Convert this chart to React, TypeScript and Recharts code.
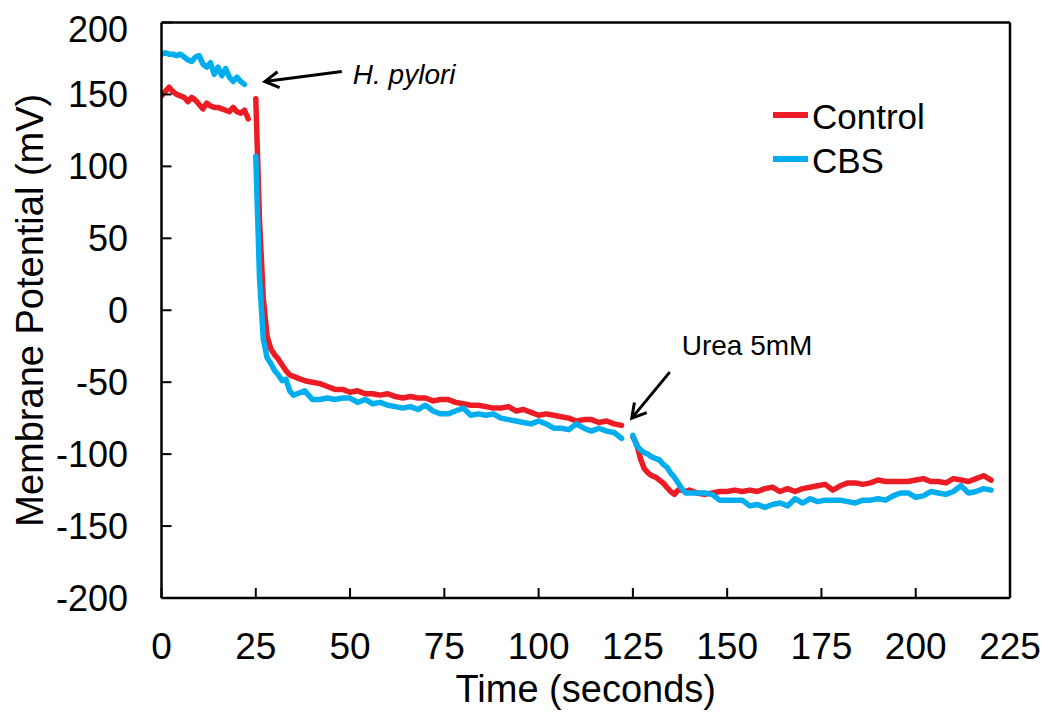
import React from 'react';
import { LineChart, Line, XAxis, YAxis, ReferenceLine, ReferenceDot } from 'recharts';

// ---- Data ----
// Segment 1: before H. pylori addition
const seg1Time = [0, 1, 2, 3, 4, 5, 6, 7, 8, 9, 10, 11, 12, 13, 14, 15, 16, 17, 18, 19, 20, 21, 22, 23];
const control1 = [149, 152, 155, 152, 150, 149, 148, 145, 148, 146, 143, 140, 144, 142, 141, 141, 140, 139, 138, 141, 138, 137, 139, 133];
const cbs1 = [178, 179, 178, 178, 177, 178, 176, 174, 173, 176, 177, 171, 169, 172, 164, 169, 163, 168, 162, 159, 162, 159, 157, null];

// Segment 2: after H. pylori, before urea
const seg2Time = [25, 26, 27, 28, 29, 30, 31, 32, 33, 34, 35, 36, 38, 40, 42, 44, 46, 48, 50, 52, 54, 56, 58, 60, 62, 64, 66, 68, 70, 72, 74, 76, 78, 80, 82, 84, 86, 88, 90, 92, 94, 96, 98, 100, 102, 104, 106, 108, 110, 112, 114, 116, 118, 120, 122];
const control2 = [147, 62, 8, -18, -27, -31, -34, -38, -42, -45, -46, -47, -49, -50, -51, -53, -55, -55, -57, -56, -58, -58, -59, -58, -60, -61, -60, -61, -61, -63, -62, -62, -64, -65, -66, -66, -67, -68, -68, -67, -70, -69, -71, -73, -72, -73, -74, -75, -77, -76, -76, -78, -77, -79, -80];
const cbs2 = [107, 22, -20, -33, -37, -42, -45, -49, -48, -56, -59, -58, -56, -62, -62, -61, -62, -61, -61, -64, -62, -65, -64, -66, -67, -68, -67, -69, -66, -70, -72, -72, -70, -68, -73, -72, -73, -72, -75, -76, -77, -78, -79, -77, -79, -82, -82, -83, -79, -82, -84, -82, -84, -85, -89];

// Segment 3: after urea 5mM
const seg3Time = [125, 126, 127, 128, 129, 130, 131, 132, 133, 134, 135, 136, 137, 138, 139, 140, 142, 144, 146, 148, 150, 152, 154, 156, 158, 160, 162, 164, 166, 168, 170, 172, 174, 176, 178, 180, 182, 184, 186, 188, 190, 192, 194, 196, 198, 200, 202, 204, 206, 208, 210, 212, 214, 216, 218, 220];
const control3 = [-88, -93, -103, -110, -113, -115, -116, -118, -120, -123, -126, -128, -125, -125, -126, -125, -127, -128, -127, -126, -126, -125, -126, -125, -126, -124, -123, -126, -124, -126, -124, -123, -122, -121, -125, -122, -120, -120, -121, -120, -118, -119, -119, -119, -119, -118, -117, -119, -119, -120, -117, -118, -119, -117, -115, -118];
const cbs3 = [-87, -94, -97, -99, -100, -102, -103, -104, -107, -109, -113, -116, -120, -124, -127, -127, -127, -127, -128, -132, -132, -132, -132, -136, -135, -137, -135, -134, -136, -131, -134, -131, -133, -132, -132, -132, -133, -134, -132, -132, -131, -132, -129, -127, -127, -130, -129, -126, -127, -128, -126, -122, -127, -126, -124, -125];

const xTicks = [0, 25, 50, 75, 100, 125, 150, 175, 200, 225];
const yTicks = [-200, -150, -100, -50, 0, 50, 100, 150, 200];
const seriesNames = ['Control', 'CBS'];
const seriesColors = ['#ED1C24', '#00AEEF'];

type Row = { t: number; control: number | null; cbs: number | null };

function buildRows(times: number[], a: (number | null)[], b: (number | null)[]): Row[] {
  return times.map((t, i) => ({ t, control: a[i], cbs: b[i] }));
}

const rows: Row[] = [
  ...buildRows(seg1Time, control1, cbs1),
  { t: 24, control: null, cbs: null },
  ...buildRows(seg2Time, control2, cbs2),
  { t: 123.5, control: null, cbs: null },
  ...buildRows(seg3Time, control3, cbs3),
];

const FONT = "'Liberation Sans', Arial, Helvetica, sans-serif";

function makeArrow(dx: number, dy: number, label: string, tx: number, ty: number, italic: boolean) {
  return (props: any) => {
    const cx = props.cx;
    const cy = props.cy;
    if (cx == null || cy == null) return <g />;
    const len = Math.hypot(dx, dy);
    const ux = dx / len;
    const uy = dy / len;
    const head = 16;
    const ang = Math.PI / 6;
    const ax = ux * Math.cos(ang) - uy * Math.sin(ang);
    const ay = ux * Math.sin(ang) + uy * Math.cos(ang);
    const bx = ux * Math.cos(-ang) - uy * Math.sin(-ang);
    const by = ux * Math.sin(-ang) + uy * Math.cos(-ang);
    return (
      <g>
        <line x1={cx + dx} y1={cy + dy} x2={cx + ux * 2} y2={cy + uy * 2} stroke="#000" strokeWidth={3} />
        <polyline
          points={`${cx + ax * head},${cy + ay * head} ${cx},${cy} ${cx + bx * head},${cy + by * head}`}
          fill="none"
          stroke="#000"
          strokeWidth={3}
        />
        <text x={cx + tx} y={cy + ty} fontSize={28} fontFamily={FONT} fontStyle={italic ? 'italic' : 'normal'} fill="#000">
          {label}
        </text>
      </g>
    );
  };
}

const YTitle = (props: any) => {
  const vb = props.viewBox || { x: 0, y: 14.5, width: 153.5, height: 575.5 };
  const x = 35;
  const y = vb.y + vb.height / 2;
  return (
    <text x={x} y={y} transform={`rotate(-90 ${x} ${y})`} textAnchor="middle" fontSize={38} fontFamily={FONT} fill="#000">
      Membrane Potential (mV)
    </text>
  );
};

export default function App() {
  const W = 1040;
  const H = 712;
  return (
    <div style={{ position: 'relative', width: W, height: H, fontFamily: FONT }}>
      <LineChart width={W} height={H} data={rows} margin={{ top: 14.5, right: 38, left: 0, bottom: 0 }}>
        <XAxis
          dataKey="t"
          type="number"
          domain={[0, 225]}
          ticks={xTicks}
          allowDataOverflow
          height={122}
          tickSize={-10}
          tickMargin={45}
          axisLine={{ stroke: '#000', strokeWidth: 2.5 }}
          tickLine={{ stroke: '#000', strokeWidth: 2 }}
          tick={{ fill: '#000', fontSize: 37, fontFamily: FONT }}
          label={{ value: 'Time (seconds)', position: 'insideBottom', offset: 18, fontSize: 38, fill: '#000', fontFamily: FONT }}
        />
        <YAxis
          type="number"
          domain={[-200, 200]}
          ticks={yTicks}
          allowDataOverflow
          width={153.5}
          tickSize={-10}
          tickMargin={43.5}
          axisLine={{ stroke: '#000', strokeWidth: 2.5 }}
          tickLine={{ stroke: '#000', strokeWidth: 2 }}
          tick={{ fill: '#000', fontSize: 36, fontFamily: FONT }}
          label={<YTitle />}
        />
        <ReferenceLine y={200} stroke="#000" strokeWidth={2.5} ifOverflow="visible" />
        <ReferenceLine x={225} stroke="#000" strokeWidth={2.5} ifOverflow="visible" />
        <Line
          dataKey="control"
          name={seriesNames[0]}
          stroke={seriesColors[0]}
          strokeWidth={5.5}
          dot={false}
          type="linear"
          strokeLinejoin="round"
          strokeLinecap="round"
          isAnimationActive={false}
        />
        <Line
          dataKey="cbs"
          name={seriesNames[1]}
          stroke={seriesColors[1]}
          strokeWidth={5.5}
          dot={false}
          type="linear"
          strokeLinejoin="round"
          strokeLinecap="round"
          isAnimationActive={false}
        />
        <ReferenceDot x={27.4} y={159} r={0} ifOverflow="visible" shape={makeArrow(77, -10, 'H. pylori', 88, 3, true)} />
        <ReferenceDot x={124.7} y={-75} r={0} ifOverflow="visible" shape={makeArrow(38, -46, 'Urea 5mM', 50, -63, false)} />
      </LineChart>
      <svg width={W} height={H} style={{ position: 'absolute', left: 0, top: 0, pointerEvents: 'none' }}>
        {seriesNames.map((n, i) => (
          <g key={n}>
            <line x1={765} x2={800} y1={107 + i * 44} y2={107 + i * 44} stroke={seriesColors[i]} strokeWidth={6} />
            <text x={804} y={108 + i * 44} dominantBaseline="central" fontSize={35} fontFamily={FONT} fill="#000">
              {n}
            </text>
          </g>
        ))}
      </svg>
    </div>
  );
}
